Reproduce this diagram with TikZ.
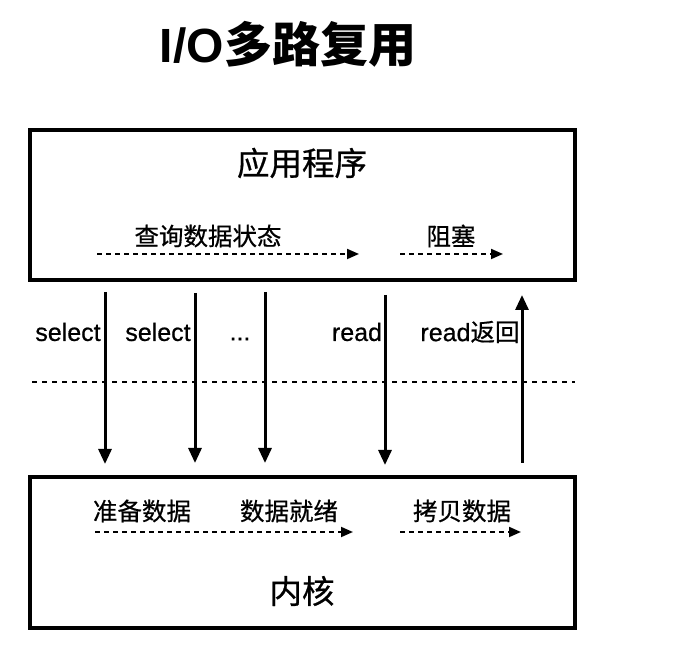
\documentclass[tikz,border=0pt]{standalone}
\usepackage{fontspec}
\setmainfont{Noto Sans CJK SC}[FakeBold=0.6]
\newfontfamily\lat{Liberation Sans}[FakeBold=0.6]
\newfontfamily\titlecjk{Noto Sans CJK SC}
\newfontfamily\titlelat{Liberation Sans}
\usetikzlibrary{arrows.meta}
\begin{document}
\begin{tikzpicture}[x=1pt,y=-1pt,
  box/.style={draw,line width=3.4pt},
  call/.style={line width=3pt,-{Triangle[length=15pt,width=13pt]}},
  flow/.style={line width=1.9pt,dash pattern=on 5pt off 4pt,-{Triangle[length=12pt,width=10pt]}},
  lbl/.style={inner sep=0pt,font=\fontsize{24.5}{28}\selectfont},
  latl/.style={inner sep=0pt,font=\lat\fontsize{25}{28}\selectfont},
  big/.style={inner sep=0pt,font=\fontsize{32.5}{36}\selectfont}]
\useasboundingbox (0,0) rectangle (681,660);
% title
\node[inner sep=0pt,font=\fontsize{48}{52}\selectfont\bfseries] (title) at (288,44) {{\titlelat\bfseries I/O}{\titlecjk\bfseries 多路复用}};
% boxes
\draw[box] (30,130) rectangle (575,280);
\draw[box] (30,477) rectangle (575,628);
\node[big] (app) at (302,163) {应用程序};
\node[big] (kern) at (302,591) {内核};
% app flows
\node[lbl] (q) at (208,236) {查询数据状态};
\node[lbl] (blk) at (451,236) {阻塞};
\coordinate (q1) at (97,254); \coordinate (q2) at (359,254);
\coordinate (b1) at (400,254); \coordinate (b2) at (503,254);
\draw[flow] (q1) -- (q2);
\draw[flow] (b1) -- (b2);
% kernel flows
\node[lbl] (prep) at (142,511) {准备数据};
\node[lbl] (ready) at (289,511) {数据就绪};
\node[lbl] (copy) at (462,511) {拷贝数据};
\coordinate (k1) at (95,532); \coordinate (k2) at (353,532);
\coordinate (c1) at (400,532); \coordinate (c2) at (521,532);
\draw[flow] (k1) -- (k2);
\draw[flow] (c1) -- (c2);
% separator
\coordinate (s1) at (32,382); \coordinate (s2) at (575,382);
\draw[line width=1.8pt,dash pattern=on 5pt off 5pt] (s1) -- (s2);
% calls
\coordinate (a1) at (105,292); \coordinate (a1e) at (105,464);
\coordinate (a2) at (195,293); \coordinate (a2e) at (195,463);
\coordinate (a3) at (265,292); \coordinate (a3e) at (265,463);
\coordinate (a4) at (385,295); \coordinate (a4e) at (385,465);
\coordinate (a5) at (522,463); \coordinate (a5e) at (522,295);
\draw[call] (a1) -- (a1e);
\draw[call] (a2) -- (a2e);
\draw[call] (a3) -- (a3e);
\draw[call] (a4) -- (a4e);
\draw[call] (a5) -- (a5e);
\node[latl] (sel1) at (68,332) {select};
\node[latl] (sel2) at (158,332) {select};
\node[latl] (dots) at (240,339) {...};
\node[latl] (rd) at (357,332) {read};
\node[lbl] (rdr) at (470,332) {{\lat\fontsize{25}{28}\selectfont read}返回};
\end{tikzpicture}
\end{document}
